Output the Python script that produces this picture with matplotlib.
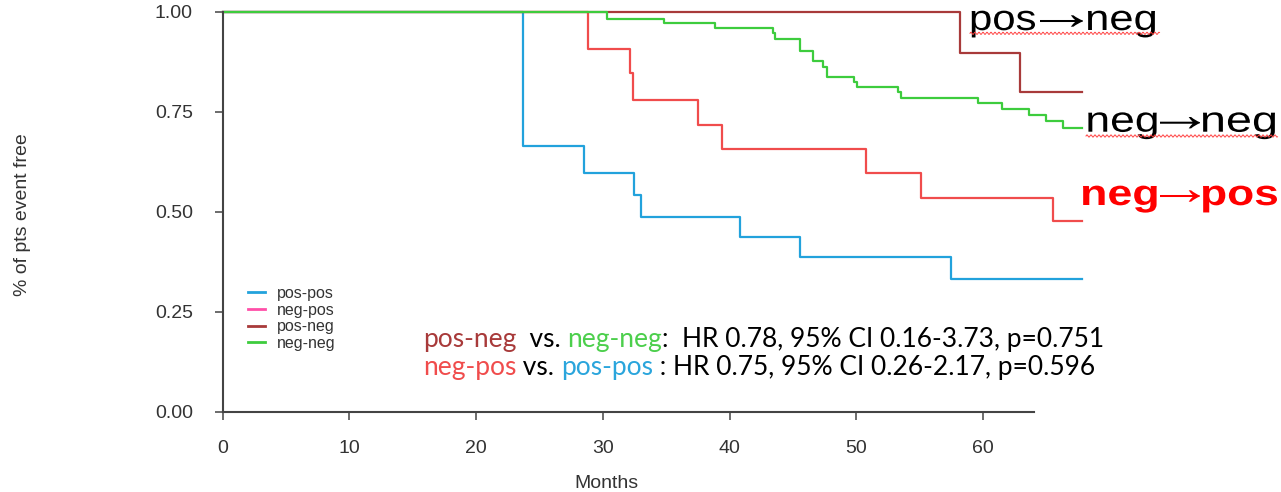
import numpy as np
import matplotlib
matplotlib.use("Agg")
import matplotlib.pyplot as plt
from matplotlib.lines import Line2D
from matplotlib.patches import PathPatch
from matplotlib.textpath import TextPath
from matplotlib.font_manager import FontProperties
from matplotlib.transforms import Affine2D, IdentityTransform

# Kaplan-Meier step data (months, fraction event free)
months_pospos = [0, 23.7, 28.5, 32.5, 33.0, 40.8, 45.6, 57.5, 67.8]
surv_pospos = [1.0, 0.664, 0.598, 0.542, 0.488, 0.437, 0.388, 0.332, 0.332]

months_negpos = [0, 28.8, 32.15, 32.4, 37.5, 39.4, 50.8, 55.1, 65.55, 67.8]
surv_negpos = [1.0, 0.908, 0.846, 0.779, 0.717, 0.657, 0.596, 0.535, 0.477, 0.477]

months_posneg = [0, 58.2, 62.9, 67.8]
surv_posneg = [1.0, 0.898, 0.798, 0.798]

months_negneg = [0, 30.35, 34.85, 38.85, 43.45, 43.6, 45.6, 46.6, 47.4, 47.7,
                 49.8, 50.1, 53.3, 53.55, 59.6, 61.5, 63.6, 65.0, 66.35, 67.8]
surv_negneg = [1.0, 0.982, 0.971, 0.960, 0.946, 0.931, 0.902, 0.877, 0.863, 0.838,
               0.825, 0.813, 0.800, 0.785, 0.771, 0.757, 0.742, 0.727, 0.710, 0.710]

x_ticks = [0, 10, 20, 30, 40, 50, 60]
y_ticks = [0.0, 0.25, 0.5, 0.75, 1.0]

legend_labels = ["pos-pos", "neg-pos", "pos-neg", "neg-neg"]

c_blue = "#22a2dc"
c_red = "#f04c4c"
c_brown = "#a83a3a"
c_green = "#3dcc3d"
c_pink = "#ff4fa8"
c_axis = "#444444"
c_text = "#333333"

W, H = 1281, 492
fig = plt.figure(figsize=(W / 100, H / 100), dpi=100)
plt.rcParams["font.family"] = ["Liberation Sans", "DejaVu Sans"]

# axes: x=0 at 222.7px, 12.67 px per month; y=0 at 411.7px, 400 px per unit
px_month = 12.67
x_max = 70
ax = fig.add_axes([222.7 / W, (H - 411.7) / H, x_max * px_month / W, 400 / H])

ax.step(months_pospos, surv_pospos, where="post", color=c_blue, lw=1.6, clip_on=False)
ax.step(months_negpos, surv_negpos, where="post", color=c_red, lw=1.6, clip_on=False)
ax.step(months_posneg, surv_posneg, where="post", color=c_brown, lw=1.6, clip_on=False)
ax.step(months_negneg, surv_negneg, where="post", color=c_green, lw=1.6, clip_on=False)

ax.set_xlim(0, x_max)
ax.set_ylim(0, 1)
ax.spines["top"].set_visible(False)
ax.spines["right"].set_visible(False)
for s in ["left", "bottom"]:
    ax.spines[s].set_color(c_axis)
    ax.spines[s].set_linewidth(1.5)
ax.spines["bottom"].set_bounds(0, 64)
ax.spines["left"].set_bounds(0, 1)

ax.set_xticks(x_ticks)
ax.set_yticks(y_ticks)
ax.set_yticklabels([f"{v:.2f}" for v in y_ticks])
ax.tick_params(axis="both", length=5.5, width=1.1, color=c_axis,
               labelsize=14, labelcolor=c_text)
ax.tick_params(axis="y", pad=16)
ax.tick_params(axis="x", pad=15)

fig.text(23 / W, 1 - 215 / H, "% of pts event free", rotation=90,
         ha="center", va="center", fontsize=14, color=c_text)
fig.text(606 / W, 1 - 483 / H, "Months", ha="center", va="center",
         fontsize=14, color=c_text)

# legend with its own handle colours
handles = [Line2D([], [], color=c, lw=2) for c in [c_blue, c_pink, c_brown, c_green]]
leg = ax.legend(handles, legend_labels, loc="upper left",
                bbox_to_anchor=(248 / W, 1 - 286 / H), bbox_transform=fig.transFigure,
                frameon=False, fontsize=11.5, handlelength=1.05, handletextpad=0.75,
                labelspacing=0.1, borderpad=0, borderaxespad=0)
for t in leg.get_texts():
    t.set_color(c_text)


def fit_word(s, x0, x1, baseline, size, color, weight="normal", y_mid=None, sy=1.0):
    """Draw s as a path stretched to span pixels x0..x1.

    The path sits on the baseline, or is centred on y_mid when given.
    """
    prop = FontProperties(family="Liberation Sans", weight=weight)
    path = TextPath((0, 0), s, size=size, prop=prop)
    ext = path.get_extents()
    sx = (x1 - x0) / ext.width
    if y_mid is None:
        tr = Affine2D().translate(-ext.x0, 0).scale(sx, sy).translate(x0, H - baseline)
    else:
        yc = (ext.y0 + ext.y1) / 2
        tr = Affine2D().translate(-ext.x0, -yc).scale(sx, sy).translate(x0, H - y_mid)
    fig.add_artist(PathPatch(path, transform=tr + IdentityTransform(),
                             facecolor=color, edgecolor="none"))


# curve names at the right: (first word, arrow, second word) pixel spans
names = [
    ("pos", "neg", (971.7, 1035), (1040, 1083), (1088, 1155), 30, "black", "normal"),
    ("neg", "neg", (1088.3, 1156.7), (1160, 1200), (1203, 1275), 131.7, "black", "normal"),
    ("neg", "pos", (1083, 1156.7), (1160, 1200), (1203, 1277), 205, "#ff0000", "bold"),
]
for w1, w2, span1, span_a, span2, base, col, wt in names:
    fit_word(w1, *span1, base, 36, col, wt)
    fit_word("\u2192", *span_a, base, 36, col, wt, y_mid=base - 9, sy=1.35)
    fit_word(w2, *span2, base, 36, col, wt)

# spell-check squiggles under the two black names
for x0, x1, yb in [(970, 1160, 33.3), (1086, 1278, 136)]:
    xs = np.arange(x0, x1, 0.5)
    ys = yb + 1.1 * np.sin(xs * 2 * np.pi / 4.0)
    fig.add_artist(Line2D(xs / W, 1 - ys / H, color="#ff4040", lw=0.7))

# hazard ratio summary lines, each built from coloured pieces
stat_size = 19
line1 = [("pos-neg", c_brown), ("  vs. ", "black"), ("neg-neg", "#4ccf4c"),
         (":  HR 0.78, 95% CI 0.16-3.73, p=0.751", "black")]
line2 = [("neg-pos", c_red), (" vs. ", "black"), ("pos-pos", "#2aa5dc"),
         (" : HR 0.75, 95% CI 0.26-2.17, p=0.596", "black")]

for (x_px, y_px), pieces in [((422.7, 346.7), line1), ((422.7, 375), line2)]:
    prev = None
    for txt, col in pieces:
        if prev is None:
            prev = ax.annotate(txt, xy=(x_px / W, 1 - y_px / H), xycoords="figure fraction",
                               color=col, fontsize=stat_size, family="Lato",
                               va="baseline", ha="left")
        else:
            prev = ax.annotate(txt, xy=(1, 0), xycoords=prev, color=col,
                               fontsize=stat_size, family="Lato",
                               va="bottom", ha="left")

fig.savefig("out.png", dpi=100)
